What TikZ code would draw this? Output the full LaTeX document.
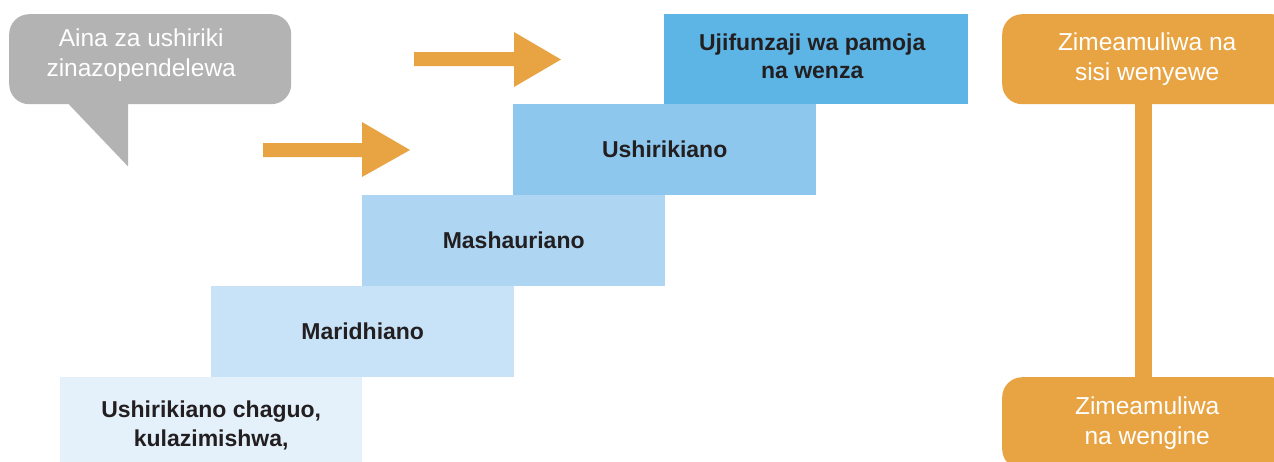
\documentclass[tikz,border=0pt]{standalone}
\usepackage{fontspec}
\setmainfont{Liberation Sans}
\usetikzlibrary{calc}
\definecolor{bA}{HTML}{E4F1FB}
\definecolor{bB}{HTML}{C8E3F7}
\definecolor{bC}{HTML}{AED5F2}
\definecolor{bD}{HTML}{8DC7ED}
\definecolor{bE}{HTML}{5DB5E6}
\definecolor{orng}{HTML}{E8A443}
\definecolor{gry}{HTML}{B3B3B3}
\definecolor{txt}{HTML}{231F20}
\begin{document}
\begin{tikzpicture}[x=1pt,y=-1pt,
  stepbox/.style={draw=none, minimum width=303pt, minimum height=91pt, inner sep=0pt, anchor=north west,
    font=\fontsize{23}{28.5}\selectfont\bfseries, text=txt, align=center},
  obox/.style={fill=orng, rounded corners=20pt, minimum width=290pt, minimum height=90pt, inner sep=0pt,
    anchor=north west, text=white, font=\fontsize{24.5}{29.5}\selectfont, align=center},
  blockarrow/.style={fill=orng, draw=none}]
\clip (0,0) rectangle (1274,461);
\fill[white] (0,0) rectangle (1274,461);
% steps
\node[stepbox, fill=bA, minimum height=96pt, minimum width=302pt] (s1) at (60,377) {Ushirikiano chaguo,\\kulazimishwa,};
\node[stepbox, fill=bB] (s2) at (211,286) {Maridhiano};
\node[stepbox, fill=bC] (s3) at (362,195) {Mashauriano};
\node[stepbox, fill=bD] (s4) at (513,104) {Ushirikiano};
\node[stepbox, fill=bE, minimum height=90pt, minimum width=304pt] (s5) at (664,14) {};
\node[font=\fontsize{23}{28.5}\selectfont\bfseries, text=txt, align=center] (s5t) at ($(s5.center)+(-4,-3)$) {Ujifunzaji wa pamoja\\na wenza};
% speech bubble
\node[fill=gry, rounded corners=20pt, minimum width=282pt, minimum height=90pt, inner sep=0pt, anchor=north west] (bubble) at (9,14) {};
\fill[gry] ($(bubble.south west)+(59,-1)$) -- ($(bubble.south west)+(119,62)$) -- ($(bubble.south west)+(119,-1)$) -- cycle;
\node[text=white, font=\fontsize{24.5}{29.5}\selectfont, align=center] (btext) at ($(bubble.center)+(-9,-4)$) {Aina za ushiriki\\zinazopendelewa};
% block arrows
\fill[blockarrow] (414,52) -- (514,52) -- (514,32) -- (561,59.5) -- (514,87) -- (514,66) -- (414,66) -- cycle;
\fill[blockarrow] (263,143) -- (362,143) -- (362,122) -- (410,150) -- (362,177) -- (362,157) -- (263,157) -- cycle;
% orange boxes
\node[obox] (otop) at (1002,14) {Zimeamuliwa na\\sisi wenyewe};
\node[obox, minimum height=92pt] (obot) at (1002,377) {Zimeamuliwa\\na wengine};
\draw[orng, line width=17pt] ($(otop.south)+(-3.5,0)$) -- ($(obot.north)+(-3.5,0)$);
\end{tikzpicture}
\end{document}
